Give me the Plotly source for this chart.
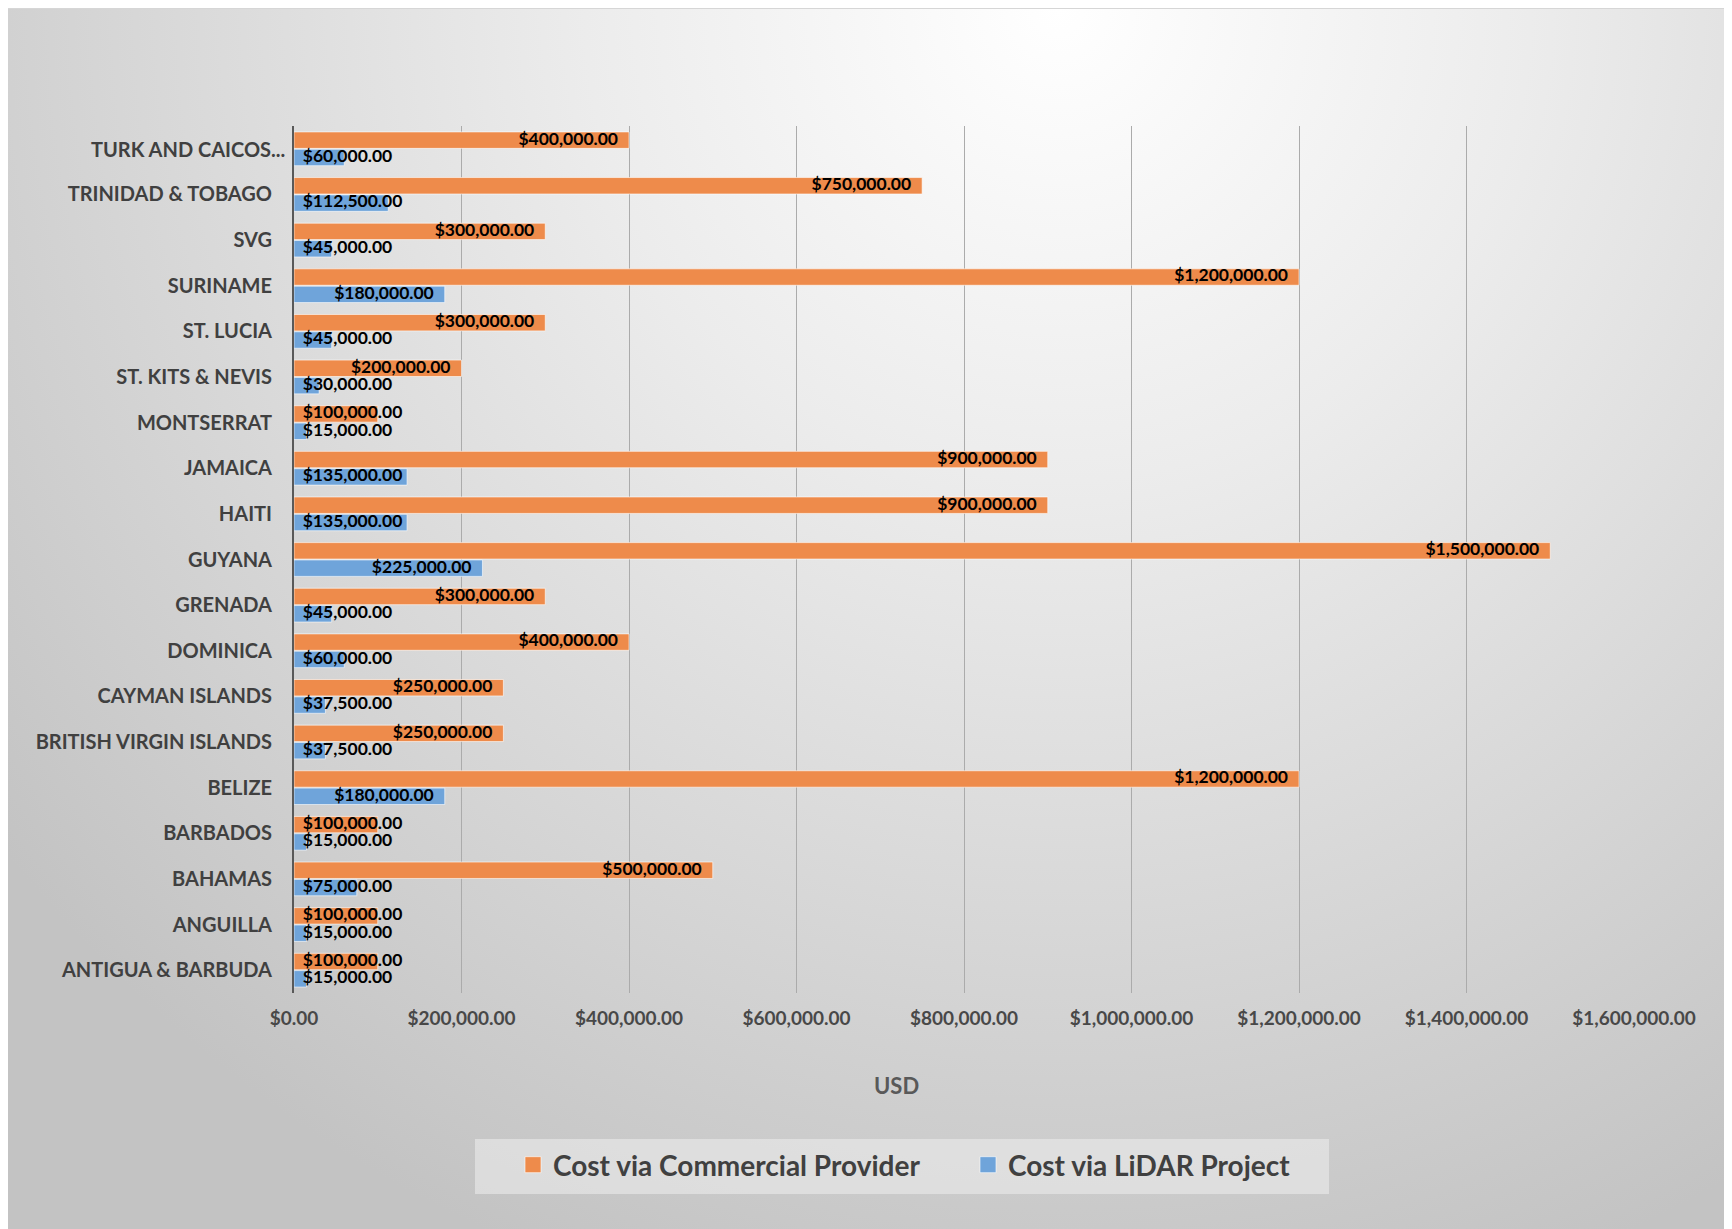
import base64
import plotly.graph_objects as go

# ---------------- data ----------------
countries = ["ANTIGUA & BARBUDA", "ANGUILLA", "BAHAMAS", "BARBADOS", "BELIZE",
             "BRITISH VIRGIN ISLANDS", "CAYMAN ISLANDS", "DOMINICA", "GRENADA",
             "GUYANA", "HAITI", "JAMAICA", "MONTSERRAT", "ST. KITS & NEVIS",
             "ST. LUCIA", "SURINAME", "SVG", "TRINIDAD & TOBAGO", "TURK AND CAICOS..."]
commercial = [100000, 100000, 500000, 100000, 1200000, 250000, 250000, 400000, 300000,
              1500000, 900000, 900000, 100000, 200000, 300000, 1200000, 300000, 750000, 400000]
lidar = [15000, 15000, 75000, 15000, 180000, 37500, 37500, 60000, 45000,
         225000, 135000, 135000, 15000, 30000, 45000, 180000, 45000, 112500, 60000]
x_ticks = [0, 200000, 400000, 600000, 800000, 1000000, 1200000, 1400000, 1600000]
series_names = ["Cost via Commercial Provider", "Cost via LiDAR Project"]

# ---------------- layout geometry (page has an 8px body margin) ----------------
W, H = 1724, 1221
ML, MR, MT, MB = 286, 98, 118, 236
PW = W - ML - MR
PH = H - MT - MB
XMAX = 1600000
ppu = PW / XMAX  # px per data unit

ORANGE = "#EE8B4B"
BLUE = "#6FA4DA"
LBL_FONT = 17.5
YLBL_FONT = dict(family="Lato", size=20, color="#404040", weight="bold")


def fmt(v):
    return "${:,.2f}".format(v)


def text_w(s, size):
    w = 0.0
    for ch in s:
        w += 0.25 if ch in ",." else 0.575
    return w * size


def label_x(vals):
    xs = []
    for v in vals:
        tw = text_w(fmt(v), LBL_FONT)
        right_px = max(v * ppu - 11, 9 + tw)
        xs.append(right_px / ppu)
    return xs


def px_x(px):
    return (px - ML) / PW


def px_y(py):
    return (MT + PH - py) / PH


pos = list(range(len(countries)))
BW = 0.36

fig = go.Figure()
fig.add_trace(go.Bar(
    y=pos, x=commercial, orientation="h", name=series_names[0],
    width=BW, offset=0.01, marker=dict(color=ORANGE, line=dict(color="rgba(255,255,255,0.6)", width=1)),
    showlegend=False, hoverinfo="x+name"))
fig.add_trace(go.Bar(
    y=pos, x=lidar, orientation="h", name=series_names[1],
    width=BW, offset=-0.01 - BW, marker=dict(color=BLUE, line=dict(color="rgba(255,255,255,0.6)", width=1)),
    showlegend=False, hoverinfo="x+name"))

fig.add_trace(go.Scatter(
    y=[p + 0.01 + BW / 2 for p in pos], x=label_x(commercial), mode="text",
    text=[fmt(v) for v in commercial], textposition="middle left",
    textfont=dict(family="Lato", size=LBL_FONT, color="#000000", weight="bold"),
    showlegend=False, hoverinfo="skip", cliponaxis=False))
fig.add_trace(go.Scatter(
    y=[p - 0.01 - BW / 2 for p in pos], x=label_x(lidar), mode="text",
    text=[fmt(v) for v in lidar], textposition="middle left",
    textfont=dict(family="Lato", size=LBL_FONT, color="#000000", weight="bold"),
    showlegend=False, hoverinfo="skip", cliponaxis=False))

# legend proxies (larger square swatches)
for nm, col in zip(series_names, [ORANGE, BLUE]):
    fig.add_trace(go.Scatter(
        x=[None], y=[None], mode="markers", name=nm,
        marker=dict(symbol="square", size=16, color=col,
                    line=dict(color="rgba(255,255,255,0.6)", width=1))))

# ---------------- gradient background ----------------
svg = (
    '<svg xmlns="http://www.w3.org/2000/svg" width="1724" height="1221" viewBox="0 0 1724 1221" '
    'preserveAspectRatio="none">'
    '<defs><radialGradient id="g" cx="1050" cy="0" r="1350" gradientUnits="userSpaceOnUse">'
    '<stop offset="0" stop-color="#ffffff"/>'
    '<stop offset="0.35" stop-color="#ececec"/>'
    '<stop offset="1" stop-color="#c3c3c3"/>'
    '</radialGradient></defs>'
    '<rect x="0" y="0" width="1724" height="1221" fill="url(#g)"/>'
    '<line x1="0" y1="0.5" x2="1724" y2="0.5" stroke="#d6d6d6" stroke-width="1"/>'
    '</svg>'
)
src = "data:image/svg+xml;base64," + base64.b64encode(svg.encode()).decode()
fig.add_layout_image(dict(
    source=src, xref="paper", yref="paper", x=px_x(0), y=px_y(0),
    sizex=W / PW, sizey=H / PH, sizing="stretch",
    xanchor="left", yanchor="top", layer="below"))

# legend box
fig.add_shape(type="rect", xref="paper", yref="paper",
              x0=px_x(467), x1=px_x(1321), y0=px_y(1131), y1=px_y(1186),
              fillcolor="rgba(238,238,238,0.55)", line=dict(width=0), layer="below")

# x axis title
fig.add_annotation(text="USD", xref="paper", yref="paper", x=px_x(888), y=px_y(1077),
                   showarrow=False, xanchor="center", yanchor="middle",
                   font=dict(family="Lato", size=22, color="#595959", weight="bold"))

# the truncated top category label sits a little further right (as in the original)
tick_text = list(countries[:-1]) + [""]
fig.add_annotation(text=countries[-1], xref="paper", yref="y", x=px_x(279), y=pos[-1],
                   showarrow=False, xanchor="right", yanchor="middle", font=YLBL_FONT)

fig.update_layout(
    width=W, height=H,
    margin=dict(l=ML, r=MR, t=MT, b=MB),
    paper_bgcolor="#c6c6c6",
    plot_bgcolor="rgba(0,0,0,0)",
    barmode="overlay",
    font=dict(family="Lato", color="#404040"),
    showlegend=True,
    legend=dict(
        orientation="h", x=px_x(505), y=px_y(1157), xanchor="left", yanchor="middle",
        bgcolor="rgba(0,0,0,0)", borderwidth=0,
        font=dict(family="Lato", size=28, color="#404040", weight="bold"),
        itemwidth=30, entrywidth=410, traceorder="normal"),
    xaxis=dict(
        range=[0, XMAX], tickvals=x_ticks, ticktext=[fmt(v) for v in x_ticks],
        showgrid=True, gridcolor="#ababab", gridwidth=1, zeroline=False,
        showline=False, ticks="", ticklabelstandoff=12,
        tickfont=dict(family="Lato", size=19, color="#484848", weight="bold")),
    yaxis=dict(
        range=[-0.5, len(countries) - 0.5], tickvals=pos, ticktext=tick_text,
        showgrid=False, zeroline=False, showline=True, linecolor="#595959", linewidth=2,
        ticks="", ticklabelstandoff=16, tickfont=YLBL_FONT),
)

fig.write_html("out.html")
